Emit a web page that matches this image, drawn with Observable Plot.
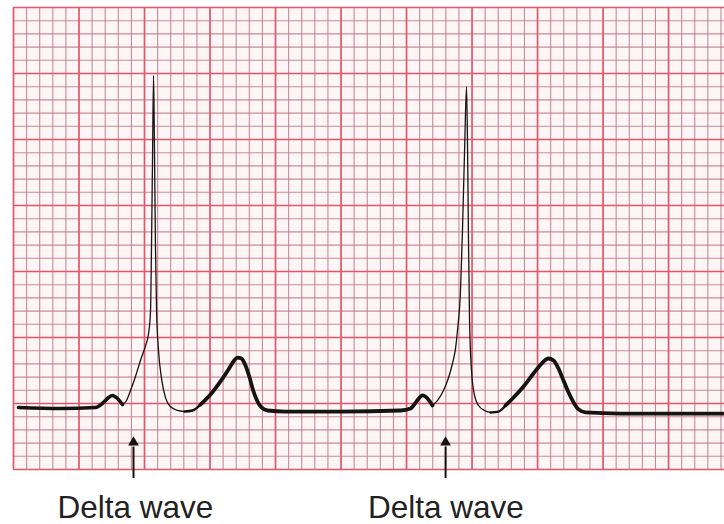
<!DOCTYPE html>
<html>
<head>
<meta charset="utf-8">
<script src="https://cdn.jsdelivr.net/npm/d3@7"></script>
<script src="https://cdn.jsdelivr.net/npm/@observablehq/plot@0.6"></script>
<style>
  html, body { margin: 0; padding: 0; background: #ffffff; }
  #chart svg { display: block; }
</style>
</head>
<body>
<div id="chart"></div>
<script>
// ECG paper units: x = time in small boxes (mm), y = amplitude in small boxes (mm)
// Thick segments (baseline, P/delta bump, T wave), thin segments (QRS), medium (S-T transition)
const thick1 = [[0.38,4.70],[3.59,4.62],[6.26,4.70],[6.87,5.08],[7.25,5.45],[7.56,5.61],[7.94,5.38],[8.32,4.92]];
const thin1  = [[8.32,4.92],[8.63,5.23],[8.93,5.98],[9.31,7.05],[9.69,8.26],[10.08,9.39],[10.31,10.30],[10.46,12.05],
                [10.53,16.59],[10.61,23.41],[10.69,29.85],[10.76,24.17],[10.84,16.59],[10.92,12.05],[11.07,9.02],
                [11.30,6.89],[11.60,5.45],[11.98,4.77],[12.52,4.47],[13.05,4.39]];
const mid1   = [[13.05,4.39],[13.66,4.47],[14.27,4.92]];
const thick2 = [[14.27,4.92],[15.04,5.68],[15.80,6.67],[16.41,7.58],[16.79,8.18],[17.10,8.48],[17.40,8.41],
                [17.71,7.88],[18.02,6.97],[18.32,5.91],[18.63,5.15],[18.93,4.70],[19.39,4.47],[20.76,4.39],[24.96,4.39],
                [29.54,4.47],[30.31,4.62],[30.76,5.15],[31.22,5.61],[31.60,5.38],[31.98,4.85]];
const thin2  = [[31.98,4.85],[32.37,5.23],[32.82,5.98],[33.21,6.97],[33.51,8.03],[33.74,9.17],[33.89,10.53],[34.12,13.56],
                [34.27,18.11],[34.43,24.17],[34.58,29.02],[34.66,24.17],[34.73,17.35],[34.81,11.29],[34.96,7.50],
                [35.19,5.61],[35.50,4.85],[35.95,4.47],[36.41,4.32]];
const mid2   = [[36.41,4.32],[37.02,4.39],[37.56,4.85]];
const thick3 = [[37.56,4.85],[38.17,5.45],[38.93,6.29],[39.69,7.27],[40.31,8.03],[40.84,8.41],[41.22,8.26],
                [41.60,7.65],[41.98,6.74],[42.37,5.83],[42.75,5.08],[43.13,4.55],[43.66,4.32],[46.34,4.24],[50.92,4.24],[54.27,4.24]];

const labels = ["Delta wave", "Delta wave"];
const arrowX = [9.16, 32.98];
const labelX = [9.30, 33.00];

const xDomain = [0, 54.27];
const yDomain = [0, 35];
const minorTicksX = d3.range(0, 55).filter(d => d % 5 !== 0);
const majorTicksX = d3.range(0, 55, 5);
const minorTicksY = d3.range(0, 36).filter(d => d % 5 !== 0);
const majorTicksY = d3.range(0, 36, 5);

const minorColor = "#c07886";
const majorColor = "#e2566a";
const ink = "#141414";

const lineOpts = {x: d => d[0], y: d => d[1], stroke: ink, curve: "monotone-x", strokeLinecap: "round", strokeLinejoin: "round"};

const arrows = arrowX.map(x => ({x, y1: -0.68, y2: 1.7, tip: 2.05}));
const texts = labels.map((t, i) => ({t, x: labelX[i], y: -3.71}));

const chart = Plot.plot({
  width: 724,
  height: 524,
  marginTop: 7,
  marginRight: 0,
  marginBottom: 55,
  marginLeft: 13,
  x: {domain: xDomain, axis: null},
  y: {domain: yDomain, axis: null},
  style: {background: "#ffffff", overflow: "visible"},
  marks: [
    Plot.frame({fill: "#fef6f6", stroke: null}),
    Plot.gridX(minorTicksX, {stroke: minorColor, strokeOpacity: 0.85, strokeWidth: 1.1}),
    Plot.gridY(minorTicksY, {stroke: minorColor, strokeOpacity: 0.85, strokeWidth: 1.1}),
    Plot.gridX(majorTicksX, {stroke: majorColor, strokeOpacity: 1, strokeWidth: 1.7}),
    Plot.gridY(majorTicksY, {stroke: majorColor, strokeOpacity: 1, strokeWidth: 1.7}),
    Plot.line(thick1, {...lineOpts, strokeWidth: 3.6}),
    Plot.line(thin1, {...lineOpts, strokeWidth: 1.3}),
    Plot.line(mid1, {...lineOpts, strokeWidth: 2.4}),
    Plot.line(thick2, {...lineOpts, strokeWidth: 3.8}),
    Plot.line(thin2, {...lineOpts, strokeWidth: 1.3}),
    Plot.line(mid2, {...lineOpts, strokeWidth: 2.4}),
    Plot.line(thick3, {...lineOpts, strokeWidth: 3.8}),
    Plot.ruleX(arrows, {x: "x", y1: "y1", y2: "y2", stroke: ink, strokeWidth: 2, clip: false}),
    Plot.dot(arrows, {x: "x", y: "tip", symbol: "triangle", r: 4, fill: ink, stroke: null, clip: false}),
    Plot.text(texts, {x: "x", y: "y", text: "t", fontSize: 31.5, fill: "#222222", textAnchor: "middle", lineAnchor: "bottom",
      fontFamily: "'Liberation Sans', Arial, Helvetica, sans-serif", clip: false})
  ]
});
document.getElementById("chart").appendChild(chart);
</script>
</body>
</html>
